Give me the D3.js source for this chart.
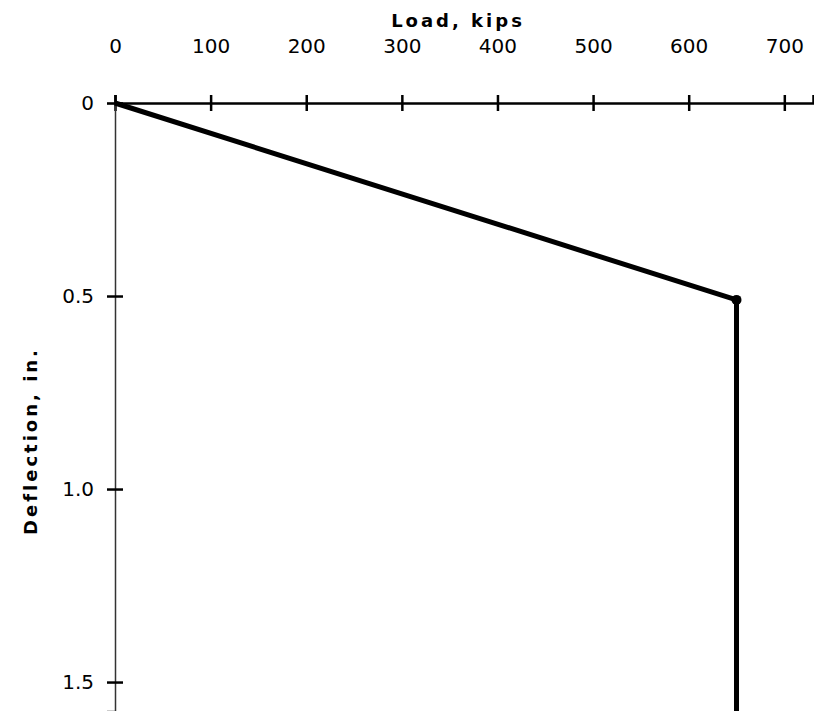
<!DOCTYPE html>
<html>
<head>
<meta charset="utf-8">
<script src="https://cdn.jsdelivr.net/npm/d3@7"></script>
<style>
  body { margin: 0; background: #fff; }
  svg { display: block; }
</style>
</head>
<body>
<div id="chart"></div>
<script>
// Data
const loadKips = [0, 650, 650];
const deflectionIn = [0, 0.51, 1.58];
const loadTicks = [0, 100, 200, 300, 400, 500, 600, 700];
const deflTicks = [0, 0.5, 1.0, 1.5];
const deflTickLabels = ["0", "0.5", "1.0", "1.5"];
const loadDomain = [0, 730];
const deflDomain = [0, 1.575];

const width = 814, height = 711;
const font = "'DejaVu Sans', sans-serif";

const svg = d3.select("#chart")
  .append("svg")
  .attr("width", width)
  .attr("height", height);

// Scales (x on top, deflection grows downward)
const xScale = d3.scaleLinear().domain(loadDomain).range([115, 813]);
const yScale = d3.scaleLinear().domain(deflDomain).range([103, 711]);

// Top axis
const xAxis = svg.append("g")
  .attr("transform", `translate(0,${yScale(0)})`)
  .call(d3.axisTop(xScale).tickValues(loadTicks).tickSizeOuter(0).tickSize(8).tickPadding(42));
xAxis.select(".domain").attr("stroke", "#000").attr("stroke-width", 2.5);
xAxis.selectAll(".tick line").attr("y1", -8).attr("y2", 8).attr("stroke-width", 2.5);
xAxis.selectAll(".tick text")
  .style("font-family", font)
  .style("font-size", "20px")
  .attr("fill", "#000");

// Left axis
const yAxis = svg.append("g")
  .attr("transform", `translate(${xScale(0)},0)`)
  .call(d3.axisLeft(yScale).tickValues(deflTicks)
    .tickFormat((d, i) => deflTickLabels[i]).tickSizeOuter(0).tickSize(8).tickPadding(13));
yAxis.select(".domain").attr("stroke", "#333").attr("stroke-width", 1.5);
yAxis.selectAll(".tick line").attr("x1", -8).attr("x2", 8).attr("stroke-width", 2.5);
yAxis.selectAll(".tick text")
  .style("font-family", font)
  .style("font-size", "20px")
  .attr("fill", "#000");

// Axis titles
svg.append("text")
  .attr("x", 458)
  .attr("y", 27)
  .attr("text-anchor", "middle")
  .style("font-family", font)
  .style("font-size", "18px")
  .style("font-weight", "bold")
  .style("letter-spacing", "3px")
  .text("Load, kips");

svg.append("text")
  .attr("transform", "translate(37,441) rotate(-90)")
  .attr("text-anchor", "middle")
  .style("font-family", font)
  .style("font-size", "18px")
  .style("font-weight", "bold")
  .style("letter-spacing", "3px")
  .text("Deflection, in.");

// Load-deflection curve
const points = loadKips.map((d, i) => ({ load: d, defl: deflectionIn[i] }));
const line = d3.line()
  .x(d => xScale(d.load))
  .y(d => yScale(d.defl));

svg.append("path")
  .datum(points)
  .attr("fill", "none")
  .attr("stroke", "#000")
  .attr("stroke-width", 5)
  .attr("stroke-linejoin", "round")
  .attr("d", line);

// Marker at the break point
svg.append("circle")
  .attr("cx", xScale(points[1].load))
  .attr("cy", yScale(points[1].defl))
  .attr("r", 5)
  .attr("fill", "#000");
</script>
</body>
</html>
